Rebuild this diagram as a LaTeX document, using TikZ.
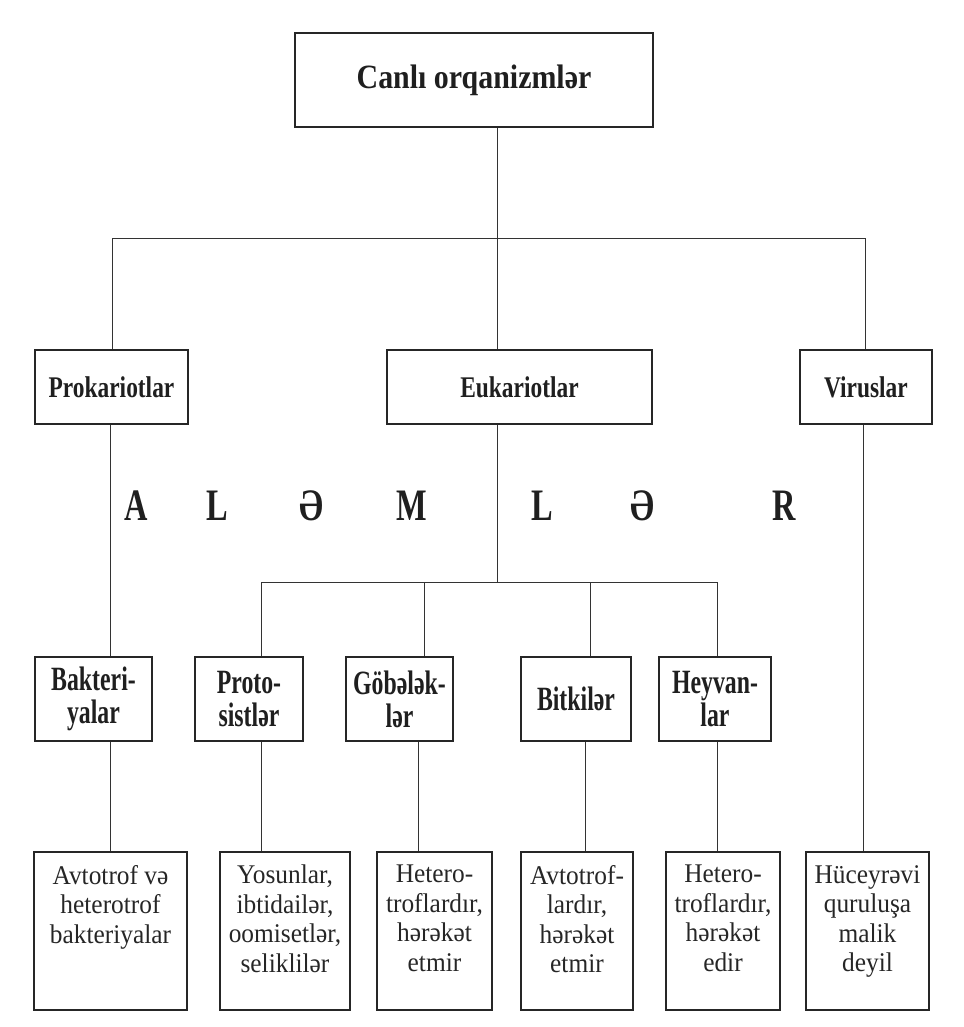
\documentclass[tikz,border=0pt]{standalone}
\usepackage{fontspec}
\setmainfont{Liberation Serif}
% narrow serif faces for the different levels of the scheme
\newfontfamily\ftop[FakeStretch=0.88]{Liberation Serif}
\newfontfamily\fmid[FakeStretch=0.78]{Liberation Serif}
\newfontfamily\flow[FakeStretch=0.70]{Liberation Serif}
\newfontfamily\fbig[FakeStretch=0.72]{Liberation Serif}
\newfontfamily\fnote[FakeStretch=0.94]{Liberation Serif}

\begin{document}
\begin{tikzpicture}[x=1pt,y=-1pt,
  box/.style={draw=black!85, line width=1.5pt, inner sep=0pt, text=black!88},
  topbox/.style={box, font=\ftop\bfseries\fontsize{34}{40}\selectfont},
  kingdom/.style={box, minimum height=74, font=\fmid\bfseries\fontsize{30}{34}\selectfont},
  group/.style={box, minimum height=84, align=center, font=\flow\bfseries\fontsize{34}{33}\selectfont},
  notebox/.style={box, minimum height=158},
  notetext/.style={anchor=north, inner sep=0pt, align=center, text=black!85,
    font=\fnote\fontsize{27}{29.5}\selectfont},
  letter/.style={anchor=base, inner sep=0pt, text=black!88,
    font=\fbig\bfseries\fontsize{45}{50}\selectfont},
  link/.style={draw=black!80, line width=0.9pt}
]
\useasboundingbox (0,0) rectangle (963,1027);

% root
\node[topbox, minimum width=358, minimum height=94] (root) at (474,80) {Canlı orqanizmlər};

% three main branches
\node[kingdom, minimum width=153] (prok) at (111.5,387) {Prokariotlar};
\node[kingdom, minimum width=265] (euk)  at (519.5,387) {Eukariotlar};
\node[kingdom, minimum width=132] (vir)  at (866,387)   {Viruslar};

% the word spread across the middle
\node[letter] (l1) at (136,520) {A};
\node[letter] (l2) at (217,520) {L};
\node[letter] (l3) at (311,520) {Ə};
\node[letter] (l4) at (412,520) {M};
\node[letter] (l5) at (542,520) {L};
\node[letter] (l6) at (642,520) {Ə};
\node[letter] (l7) at (784,520) {R};

% kingdoms
\node[group, minimum width=117] (bak)  at (93.5,699) {Bakteri-\\yalar};
\node[group, minimum width=108] (prot) at (249,699)  {Proto-\\sistlər};
\node[group, minimum width=107] (gob)  at (399.5,699) {Göbələk-\\lər};
\node[group, minimum width=110] (bitk) at (576,699)  {Bitkilər};
\node[group, minimum width=112] (heyv) at (715,699)  {Heyvan-\\lar};

% descriptions
\node[notebox, minimum width=153] (d1) at (110.5,931) {};
\node[notebox, minimum width=130] (d2) at (285,931)   {};
\node[notebox, minimum width=115] (d3) at (434.5,931) {};
\node[notebox, minimum width=112] (d4) at (577,931)   {};
\node[notebox, minimum width=114] (d5) at (723,931)   {};
\node[notebox, minimum width=123] (d6) at (867.5,931) {};

\node[notetext] (t1) at (110.5,865) {Avtotrof və\\heterotrof\\bakteriyalar};
\node[notetext] (t2) at (285,865)   {Yosunlar,\\ibtidailər,\\oomisetlər,\\seliklilər};
\node[notetext] (t3) at (434.5,865) {Hetero-\\troflardır,\\hərəkət\\etmir};
\node[notetext] (t4) at (577,865)   {Avtotrof-\\lardır,\\hərəkət\\etmir};
\node[notetext] (t5) at (723,865)   {Hetero-\\troflardır,\\hərəkət\\edir};
\node[notetext] (t6) at (867.5,865) {Hüceyrəvi\\quruluşa\\malik\\deyil};

% junctions of the connectors
\coordinate (ja)  at (497,238);
\coordinate (jaL) at (112,238);
\coordinate (jaR) at (865,238);
\coordinate (jb)  at (497,582);
\coordinate (jbL) at (261,582);
\coordinate (jbR) at (717,582);
\coordinate (cg)  at (424,582);
\coordinate (cb)  at (590,582);
\coordinate (x1) at (110,0);
\coordinate (x2) at (261,0);
\coordinate (x3) at (418,0);
\coordinate (x4) at (585,0);
\coordinate (x5) at (717,0);
\coordinate (x6) at (863,0);

% first level
\draw[link] (root.south -| ja) -- (ja);
\draw[link] (jaL) -- (jaR);
\draw[link] (jaL) -- (prok.north -| jaL);
\draw[link] (ja)  -- (euk.north -| ja);
\draw[link] (jaR) -- (vir.north -| jaR);

% second level
\draw[link] (prok.south -| x1) -- (bak.north -| x1);
\draw[link] (euk.south -| jb) -- (jb);
\draw[link] (jbL) -- (jbR);
\draw[link] (jbL) -- (prot.north -| jbL);
\draw[link] (cg)  -- (gob.north -| cg);
\draw[link] (cb)  -- (bitk.north -| cb);
\draw[link] (jbR) -- (heyv.north -| jbR);

% down to the descriptions
\draw[link] (bak.south -| x1)  -- (d1.north -| x1);
\draw[link] (prot.south -| x2) -- (d2.north -| x2);
\draw[link] (gob.south -| x3)  -- (d3.north -| x3);
\draw[link] (bitk.south -| x4) -- (d4.north -| x4);
\draw[link] (heyv.south -| x5) -- (d5.north -| x5);
\draw[link] (vir.south -| x6)  -- (d6.north -| x6);
\end{tikzpicture}
\end{document}
